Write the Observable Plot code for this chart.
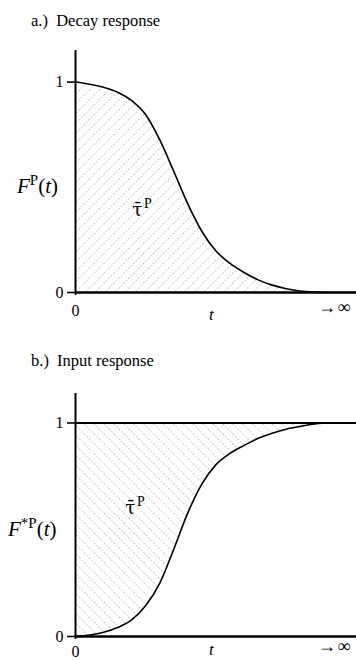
<!DOCTYPE html>
<html>
<head>
<meta charset="utf-8">
<script src="https://cdn.jsdelivr.net/npm/d3@7"></script>
<script src="https://cdn.jsdelivr.net/npm/@observablehq/plot@0.6"></script>
<style>
  body { margin: 0; background: #fff; }
  #page { position: relative; width: 356px; height: 660px; overflow: hidden;
          font-family: "Liberation Serif", "Times New Roman", serif; color: #000; }
  .abs { position: absolute; white-space: nowrap; line-height: 1; }
  .title { font-size: 16.5px; }
  .ylab { font-size: 21px; }
  .ylab .sup { font-size: 15px; position: relative; top: -8px; }
  .xlab { font-size: 17px; font-style: italic; }
  .inf { font-size: 18px; }
  .panel { position: absolute; left: 0; }
</style>
</head>
<body>
<div id="page">
  <div class="abs title" style="left:31px;top:13px">a.)&nbsp; Decay response</div>
  <div class="abs ylab" style="left:17px;top:176px"><i>F</i><span class="sup">P</span>(<i>t</i>)</div>
  <div class="abs xlab" style="left:209px;top:306px">t</div>
  <div class="abs inf" style="left:318px;top:298px">→&#8202;∞</div>

  <div class="abs title" style="left:31px;top:353px">b.)&nbsp; Input response</div>
  <div class="abs ylab" style="left:8px;top:519px"><i>F</i><span class="sup">*P</span>(<i>t</i>)</div>
  <div class="abs xlab" style="left:209px;top:641px">t</div>
  <div class="abs inf" style="left:318px;top:637px">→&#8202;∞</div>
</div>
<script>
// Decay response F^P(t): share of material still present at time t
const tDecay = [0, 0.5, 1, 1.5, 2, 2.5, 3, 3.5, 4, 4.5, 5, 5.5, 6, 6.5, 7, 7.5, 8, 8.5, 9, 10];
const decay  = [1.000, 0.990, 0.975, 0.952, 0.912, 0.845, 0.725, 0.575, 0.420, 0.290,
                0.197, 0.138, 0.095, 0.060, 0.035, 0.018, 0.007, 0.002, 0, 0];

// Input response F*P(t): cumulative share that has arrived by time t
const tInput = [0, 0.5, 1, 1.5, 2, 2.5, 3, 3.5, 4, 4.5, 5, 5.5, 6, 6.5, 7, 7.5, 8, 8.5, 9, 10];
const input  = [0, 0.007, 0.020, 0.042, 0.078, 0.145, 0.250, 0.410, 0.580, 0.715,
                0.805, 0.858, 0.895, 0.928, 0.952, 0.971, 0.984, 0.995, 1.000, 1.000];

const yTicks = [0, 1];
const xTicks = [0];
const tMax = 10;

function addHatch(svg, id, angle, gap) {
  const defs = d3.select(svg).insert("defs", ":first-child");
  const p = defs.append("pattern")
    .attr("id", id)
    .attr("patternUnits", "userSpaceOnUse")
    .attr("width", gap).attr("height", gap)
    .attr("patternTransform", `rotate(${angle})`);
  p.append("line")
    .attr("x1", 0.5).attr("y1", 0).attr("x2", 0.5).attr("y2", gap)
    .attr("stroke", "#a8a8a8").attr("stroke-width", 0.8)
    .attr("stroke-dasharray", "1.2 2");
}

function panel({top, height, marginTop, marginBottom, yMax, data, kind, hatchId, angle, tau, xPad}) {
  const marks = [];
  if (kind === "decay") {
    marks.push(Plot.areaY(data, {x: "t", y1: 0, y2: "v", fill: `url(#${hatchId})`, curve: "monotone-x"}));
  } else {
    marks.push(Plot.areaY(data, {x: "t", y1: "v", y2: 1, fill: `url(#${hatchId})`, curve: "monotone-x"}));
    marks.push(Plot.ruleY([1], {x1: 0, x2: tMax, stroke: "#000", strokeWidth: 2}));
  }
  marks.push(
    Plot.line(data, {x: "t", y: "v", stroke: "#000", strokeWidth: 1.6, curve: "monotone-x"}),
    Plot.ruleX([0], {y1: 0, y2: yMax, stroke: "#000", strokeWidth: 2}),
    Plot.ruleY([0], {stroke: "#000", strokeWidth: 2.5}),
    Plot.axisY(yTicks, {tickSize: 8, tickPadding: 4, strokeWidth: 1.6, fontSize: 16, label: null, tickFormat: d => String(d)}),
    Plot.axisX(xTicks, {tickSize: 3, tickPadding: xPad, strokeWidth: 1.6, fontSize: 16, label: null, tickFormat: d => String(d)}),
    // mean residence time label: tau with an overbar, superscript P
    Plot.text([tau], {x: "t", y: "v", text: () => "τ\u0304", fontSize: 18, fontFamily: "DejaVu Serif", textAnchor: "middle"}),
    Plot.text([tau], {x: "t", y: "v", text: () => "P", fontSize: 14, dx: 10.5, dy: -7, textAnchor: "middle"})
  );
  const svg = Plot.plot({
    width: 356,
    height,
    marginLeft: 75,
    marginRight: 0,
    marginTop,
    marginBottom,
    x: {domain: [0, tMax]},
    y: {domain: [0, yMax]},
    style: {fontFamily: "Liberation Serif, Times New Roman, serif", color: "#000", background: "transparent", overflow: "visible"},
    marks
  });
  addHatch(svg, hatchId, angle, 7);
  svg.classList.add("panel");
  svg.style.top = top + "px";
  return svg;
}

const page = document.getElementById("page");
page.appendChild(panel({
  top: 40, height: 290, marginTop: 10, marginBottom: 38, yMax: 1.15,
  data: tDecay.map((t, i) => ({t, v: decay[i]})),
  kind: "decay", hatchId: "hatchA", angle: 45, xPad: 9,
  tau: {t: 2.2, v: 0.39}
}));
page.appendChild(panel({
  top: 380, height: 280, marginTop: 13, marginBottom: 24, yMax: 1.138,
  data: tInput.map((t, i) => ({t, v: input[i]})),
  kind: "input", hatchId: "hatchB", angle: -45, xPad: 6,
  tau: {t: 1.95, v: 0.6}
}));
</script>
</body>
</html>
